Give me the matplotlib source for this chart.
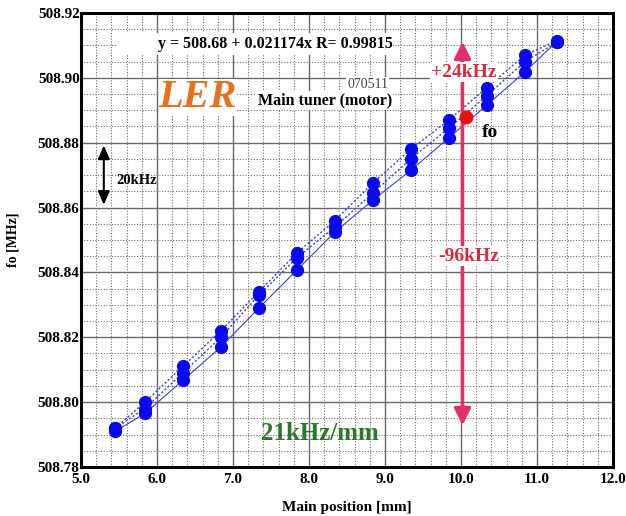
import numpy as np
import matplotlib.pyplot as plt
from matplotlib.patches import Rectangle
from matplotlib.ticker import MultipleLocator, FormatStrFormatter

plt.rcParams['font.family'] = ['Liberation Serif', 'DejaVu Serif']
plt.rcParams['font.weight'] = 'bold'

# tuner position [mm] and measured fo [MHz] for three runs
position = [5.45, 5.84, 6.34, 6.84, 7.34, 7.84, 8.34, 8.84, 9.34, 9.84, 10.34, 10.84, 11.26]
run_upper = [508.792, 508.800, 508.811, 508.822, 508.834, 508.846, 508.856,
             508.8675, 508.878, 508.887, 508.897, 508.907, 508.9115]
run_middle = [508.792, 508.798, 508.809, 508.820, 508.833, 508.8445, 508.854,
              508.8645, 508.875, 508.8845, 508.8945, 508.905, 508.911]
run_lower = [508.791, 508.7965, 508.8067, 508.817, 508.829, 508.8407, 508.8524,
             508.8623, 508.8715, 508.8815, 508.8916, 508.9018, 508.9112]

fo_pos = 10.06
fo_freq = 508.888
arrow_pos = 10.02
shift_up = 0.024     # MHz
shift_down = -0.096  # MHz

fig = plt.figure(figsize=(6.26, 5.16), dpi=100)
ax = fig.add_axes([0.1294, 0.095, 0.8498, 0.8798])

ax.set_xlim(5.0, 12.0)
ax.set_ylim(508.78, 508.92)
ax.xaxis.set_major_locator(MultipleLocator(1.0))
ax.xaxis.set_minor_locator(MultipleLocator(0.2))
ax.yaxis.set_major_locator(MultipleLocator(0.02))
ax.yaxis.set_minor_locator(MultipleLocator(0.005))
ax.xaxis.set_major_formatter(FormatStrFormatter('%.1f'))
ax.yaxis.set_major_formatter(FormatStrFormatter('%.2f'))
ax.grid(which='major', color='#6a6a6a', lw=1.0, ls='-', zorder=0)
ax.grid(which='minor', color='#707070', lw=0.8, ls=(0, (1, 1.5)), zorder=0)
ax.set_axisbelow(True)
ax.tick_params(which='both', length=0, labelsize=11, pad=4)
ax.tick_params(axis='y', pad=1)
for s in ax.spines.values():
    s.set_linewidth(2.2)
for lab in ax.get_xticklabels() + ax.get_yticklabels():
    lab.set_fontweight('bold')

line_color = '#4040c8'
ax.plot(position, run_upper, ls=(0, (1.5, 1.5)), lw=1.0, color=line_color, zorder=3)
ax.plot(position, run_middle, ls=(0, (1.5, 1.5)), lw=1.0, color=line_color, zorder=3)
ax.plot(position, run_lower, ls='-', lw=0.8, color=line_color, zorder=3)
for run in (run_upper, run_middle, run_lower):
    ax.plot(position, run, ls='none', marker='o', ms=8.5, color='#0a0aee',
            mec='#0a0aee', zorder=4)

# fo and tuning range
ax.plot(fo_pos, fo_freq, 'o', ms=9, color='#e81010', zorder=6)
arrow_kw = dict(arrowstyle='-|>,head_width=0.5,head_length=1.0', color='#e2306c', lw=2.5)
ax.annotate('', xy=(arrow_pos, fo_freq + shift_up), xytext=(arrow_pos, fo_freq),
            arrowprops=arrow_kw, zorder=5)
ax.annotate('', xy=(arrow_pos, fo_freq + shift_down), xytext=(arrow_pos, fo_freq),
            arrowprops=arrow_kw, zorder=5)
white = dict(facecolor='white', edgecolor='none', pad=1)
ax.text(10.04, 508.9018, '+24kHz', color='#e02a3c', fontsize=14, ha='center',
        va='center', bbox=white, zorder=7)
ax.text(10.1, 508.845, '-96kHz', color='#e02a3c', fontsize=14, ha='center',
        va='center', bbox=white, zorder=7)
ax.text(10.28, 508.8833, 'fo', color='black', fontsize=14, ha='left', va='center', zorder=7)

# annotations
ax.add_patch(Rectangle((5.47, 508.907), 3.63, 0.0068, facecolor='white',
                       edgecolor='none', zorder=2))
ax.text(6.01, 508.9104, 'y = 508.68 + 0.021174x R= 0.99815', fontsize=11.5,
        ha='left', va='center', zorder=7)
ax.text(9.04, 508.8978, '070511', fontsize=10, fontweight='normal', color='#444444',
        ha='right', va='center', zorder=7, bbox=white)
ax.text(6.02, 508.894, 'LER', fontsize=29, style='italic', color='#ea701e',
        ha='left', va='center', zorder=7, bbox=dict(facecolor='white', edgecolor='none', pad=0))
ax.text(9.09, 508.893, 'Main tuner (motor)', fontsize=11.5, ha='right', va='center',
        zorder=7, bbox=white)
ax.annotate('', xy=(5.3, 508.88), xytext=(5.3, 508.86),
            arrowprops=dict(arrowstyle='<|-|>,head_width=0.35,head_length=0.8',
                            color='black', lw=1.5))
ax.text(5.47, 508.8684, '20kHz', fontsize=10.5, ha='left', va='center', zorder=7)
ax.text(8.14, 508.7903, '21kHz/mm', fontsize=18, color='#2b7a2b', ha='center',
        va='center', zorder=7)

ax.set_xlabel('Main position [mm]', fontsize=11, fontweight='bold', labelpad=11)
ax.set_ylabel('fo [MHz]', fontsize=10, fontweight='bold', labelpad=13)

fig.savefig('out.png', dpi=100)
